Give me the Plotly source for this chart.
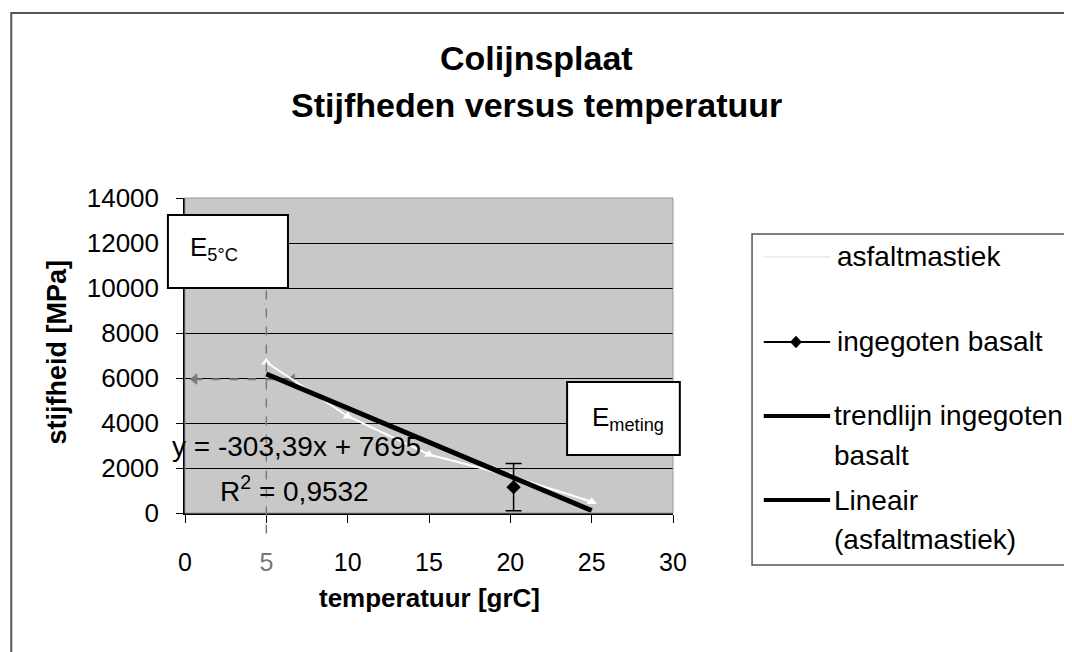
"""
Colijnsplaat - stijfheden versus temperatuur (Plotly)
"""

import plotly.graph_objects as go

# asfaltmastiek metingen
asfalt_temp = [5, 10, 15, 20, 25]
asfalt_stijf = [6700, 4300, 2600, 1650, 500]

# ingegoten basalt meting met spreiding
basalt_temp = [20.2]
basalt_stijf = [1150]
basalt_fout = [1050]

# lineaire trendlijn y = -303,39x + 7695
trend_temp = [5, 25]
trend_stijf = [6178, 110]

hulp_temp = [6.6, 0.6]
hulp_stijf = [5950, 5950]
hulp_x5 = 5

x_ticks = [0, 5, 10, 15, 20, 25, 30]
x_labels = ['0', '<span style="color:#777">5</span>', '10', '15', '20', '25', '30']
y_ticks = [0, 2000, 4000, 6000, 8000, 10000, 12000, 14000]
y_labels = ['0', '2000', '4000', '6000', '8000', '10000', '12000', '14000']

FONT = 'Liberation Sans, Arial, sans-serif'
GRAY = '#7a7a7a'

fig = go.Figure()

# horizontale hulppijl
fig.add_trace(go.Scatter(
    x=hulp_temp, y=hulp_stijf,
    mode='lines+markers',
    line=dict(color=GRAY, width=2, dash='dash'),
    marker=dict(symbol='triangle-left', size=10, color=GRAY),
    showlegend=False, hoverinfo='skip',
))

# asfaltmastiek (witte lijn)
fig.add_trace(go.Scatter(
    x=asfalt_temp, y=asfalt_stijf,
    mode='lines+markers',
    name='asfaltmastiek',
    line=dict(color='white', width=2),
    marker=dict(symbol='triangle-up', size=9, color='white'),
    showlegend=False,
))

# trendlijn
fig.add_trace(go.Scatter(
    x=trend_temp, y=trend_stijf,
    mode='lines',
    name='Lineair (asfaltmastiek)',
    line=dict(color='black', width=5),
    showlegend=False,
))

# ingegoten basalt
fig.add_trace(go.Scatter(
    x=basalt_temp, y=basalt_stijf,
    mode='markers',
    name='ingegoten basalt',
    marker=dict(symbol='diamond', size=11, color='black'),
    error_y=dict(type='data', array=basalt_fout, color='black', thickness=1.5, width=8),
    showlegend=False,
))

fig.update_xaxes(
    range=[0, 30], tickvals=x_ticks, ticktext=x_labels,
    showgrid=False, zeroline=False,
    showline=True, linecolor='black', linewidth=1.5,
    ticks='outside', ticklen=8, tickcolor='black',
    ticklabelstandoff=18,
    tickfont=dict(family=FONT, size=25, color='black'),
)
fig.update_yaxes(
    range=[0, 14000], tickvals=y_ticks, ticktext=y_labels,
    showgrid=True, gridcolor='black', gridwidth=1.3,
    zeroline=False,
    showline=True, linecolor='black', linewidth=1.5,
    ticks='outside', ticklen=7, tickcolor='black',
    ticklabelstandoff=12,
    tickfont=dict(family=FONT, size=26, color='black'),
)

shapes = []
# buitenkader grafiek
shapes.append(dict(type='rect', xref='paper', yref='paper',
                   x0=-0.356, y0=-0.47, x1=1.84, y1=1.587,
                   line=dict(color='#555', width=2), layer='below'))
# rand plotgebied
shapes.append(dict(type='rect', xref='paper', yref='paper',
                   x0=0, y0=0, x1=1, y1=1,
                   line=dict(color='#999', width=1)))
# verticale gestippelde hulplijn bij 5 graden
shapes.append(dict(type='line', xref='paper', yref='paper',
                   x0=hulp_x5 / 30, x1=hulp_x5 / 30, y0=-0.065, y1=0.714,
                   line=dict(color=GRAY, width=1.5, dash='dash')))
# kaders met labels
shapes.append(dict(type='rect', xref='paper', yref='paper',
                   x0=-0.035, y0=0.714, x1=0.211, y1=0.946,
                   line=dict(color='black', width=2), fillcolor='white'))
shapes.append(dict(type='rect', xref='paper', yref='paper',
                   x0=0.783, y0=0.184, x1=1.014, y1=0.416,
                   line=dict(color='black', width=2), fillcolor='white'))
# legenda kader
shapes.append(dict(type='rect', xref='paper', yref='paper',
                   x0=1.162, y0=-0.165, x1=1.807, y1=0.886,
                   line=dict(color='#555', width=1.5), fillcolor='white'))
# legenda symbolen
shapes.append(dict(type='line', xref='paper', yref='paper',
                   x0=1.186, x1=1.322, y0=0.813, y1=0.813,
                   line=dict(color='#eeeeee', width=2)))
shapes.append(dict(type='line', xref='paper', yref='paper',
                   x0=1.186, x1=1.322, y0=0.543, y1=0.543,
                   line=dict(color='black', width=2)))
dx, dy, cx, cy = 0.011, 0.018, 1.252, 0.543
shapes.append(dict(type='path', xref='paper', yref='paper',
                   path=f'M {cx - dx} {cy} L {cx} {cy + dy} L {cx + dx} {cy} L {cx} {cy - dy} Z',
                   fillcolor='black', line=dict(color='black', width=1)))
shapes.append(dict(type='line', xref='paper', yref='paper',
                   x0=1.186, x1=1.322, y0=0.308, y1=0.308,
                   line=dict(color='black', width=4)))
shapes.append(dict(type='line', xref='paper', yref='paper',
                   x0=1.186, x1=1.322, y0=0.041, y1=0.041,
                   line=dict(color='black', width=4)))


def txt(text, x, y, size=28, bold=False, xanchor='left', angle=0):
    if bold:
        text = f'<b>{text}</b>'
    return dict(text=text, x=x, y=y, xref='paper', yref='paper',
                xanchor=xanchor, yanchor='middle', showarrow=False,
                textangle=angle,
                font=dict(family=FONT, size=size, color='black'))


annotations = [
    txt('Colijnsplaat', 0.721, 1.444, size=34, bold=True, xanchor='center'),
    txt('Stijfheden versus temperatuur', 0.721, 1.295, size=34, bold=True, xanchor='center'),
    txt('stijfheid [MPa]', -0.262, 0.51, size=27, bold=True, xanchor='center', angle=-90),
    txt('temperatuur [grC]', 0.5, -0.27, size=26, bold=True, xanchor='center'),
    txt('E<sub>5°C</sub>', 0.006, 0.84, size=26),
    txt('E<sub>meting</sub>', 0.83, 0.30, size=26),
    txt('y = -303,39x + 7695', -0.031, 0.21, size=28),
    txt('R<sup>2</sup> = 0,9532', 0.068, 0.075, size=28),
    txt('asfaltmastiek', 1.332, 0.813),
    txt('ingegoten basalt', 1.332, 0.543),
    txt('trendlijn ingegoten', 1.326, 0.308),
    txt('basalt', 1.326, 0.181),
    txt('Lineair', 1.326, 0.041),
    txt('(asfaltmastiek)', 1.326, -0.083),
]

# de pagina heeft 8px body-marge; marges zo gekozen dat het plotgebied
# op dezelfde plek valt als in het origineel
fig.update_layout(
    width=1072, height=652,
    margin=dict(l=177, r=407, t=190, b=147),
    plot_bgcolor='#c8c8c8',
    paper_bgcolor='white',
    showlegend=False,
    shapes=shapes,
    annotations=annotations,
    font=dict(family=FONT),
)

fig.write_html("out.html")
